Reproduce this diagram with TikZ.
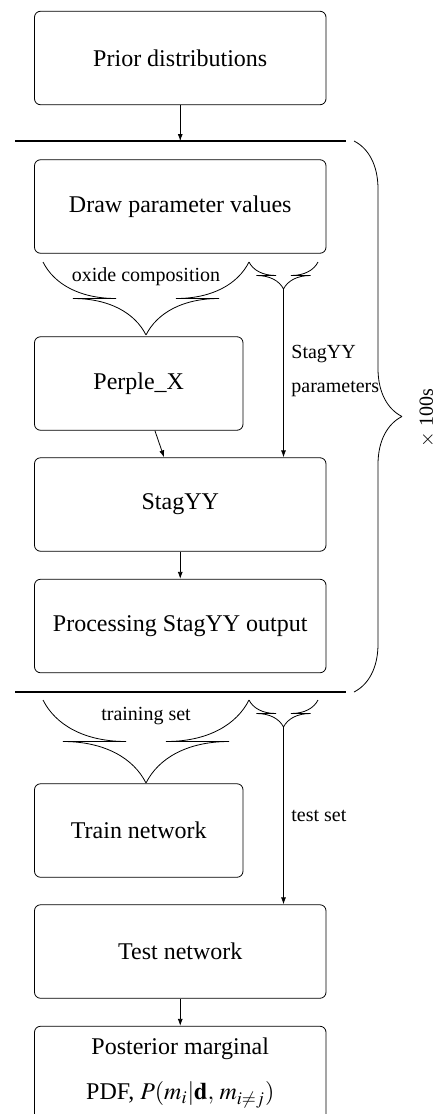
\documentclass[tikz,border=0pt]{standalone}
\usepackage{mathptmx}
\usepackage[no-math]{fontspec}
\setmainfont{Liberation Serif}
\usetikzlibrary{arrows.meta}
% brace drawn with the classic shape (x0, y0, length, amplitude), in picture units
\newcommand{\oldhbrace}[4]{%
\draw[brline] (#1,#2) .. controls ({#1+0.15*#4},{#2+0.3*#4}) and ({#1+0.5*#4},{#2+0.5*#4}) .. ({#1+#4},{#2+0.5*#4})
 -- ({#1+0.5*#3-#4},{#2+0.5*#4}) .. controls ({#1+0.5*#3-0.5*#4},{#2+0.5*#4}) and ({#1+0.5*#3-0.15*#4},{#2+0.7*#4}) .. ({#1+0.5*#3},{#2+#4})
 ({#1+0.5*#3},{#2+#4}) .. controls ({#1+0.5*#3+0.15*#4},{#2+0.7*#4}) and ({#1+0.5*#3+0.5*#4},{#2+0.5*#4}) .. ({#1+0.5*#3+#4},{#2+0.5*#4})
 -- ({#1+#3-#4},{#2+0.5*#4}) .. controls ({#1+#3-0.5*#4},{#2+0.5*#4}) and ({#1+#3-0.15*#4},{#2+0.3*#4}) .. ({#1+#3},#2);}
\newcommand{\oldvbrace}[4]{%
\draw[brline] (#1,#2) .. controls ({#1+0.3*#4},{#2+0.15*#4}) and ({#1+0.5*#4},{#2+0.5*#4}) .. ({#1+0.5*#4},{#2+#4})
 -- ({#1+0.5*#4},{#2+0.5*#3-#4}) .. controls ({#1+0.5*#4},{#2+0.5*#3-0.5*#4}) and ({#1+0.7*#4},{#2+0.5*#3-0.15*#4}) .. ({#1+#4},{#2+0.5*#3})
 ({#1+#4},{#2+0.5*#3}) .. controls ({#1+0.7*#4},{#2+0.5*#3+0.15*#4}) and ({#1+0.5*#4},{#2+0.5*#3+0.5*#4}) .. ({#1+0.5*#4},{#2+0.5*#3+#4})
 -- ({#1+0.5*#4},{#2+#3-#4}) .. controls ({#1+0.5*#4},{#2+#3-0.5*#4}) and ({#1+0.3*#4},{#2+#3-0.15*#4}) .. (#1,{#2+#3});}
\begin{document}
\begin{tikzpicture}[x=0.5pt,y=-0.5pt,
  box/.style={draw, rounded corners=3pt, line width=0.4pt, minimum width=145.75pt, minimum height=46.75pt, inner sep=0pt, font=\large, align=center},
  narrowbox/.style={box, minimum width=104.25pt},
  sepline/.style={line width=1pt},
  conn/.style={line width=0.4pt, -{Latex[length=3.5pt,width=2.5pt]}},
  brline/.style={line width=0.4pt},
  lbl/.style={font=\normalsize, inner sep=0pt}
]
\useasboundingbox (0,0) rectangle (437,1114);
\clip (0,0) rectangle (437,1114);

% boxes
\node[box] (prior) at (180.25,58) {Prior distributions};
\node[box] (draw) at (180.25,206.5) {Draw parameter values};
\node[narrowbox] (perple) at (138.75,383.5) {Perple\_X};
\node[box] (stagyy) at (180.25,504.5) {StagYY};
\node[box] (proc) at (180.25,626) {Processing StagYY output};
\node[narrowbox] (train) at (138.75,830.5) {Train network};
\node[box] (test) at (180.25,951.5) {Test network};
\node[box] (post) at (180.25,1073) {Posterior marginal\\[8.5pt]PDF, $P(m_i|\mathbf{d},\, m_{i\neq j})$};

% separator lines
\coordinate (l1a) at (15,141); \coordinate (l1b) at (346,141);
\coordinate (l1m) at (180.25,141);
\draw[sepline] (l1a) -- (l1b);
\coordinate (l2a) at (15,692); \coordinate (l2b) at (346,692);
\draw[sepline] (l2a) -- (l2b);

% braces (upper)
\oldhbrace{43}{262}{206}{73}
\oldhbrace{249}{262}{69}{27}
\coordinate (stip) at (283.5,289);

% braces (lower)
\oldhbrace{43}{700}{206}{83}
\oldhbrace{249}{700}{69}{27}
\coordinate (utip) at (283.5,727);

% right brace
\oldvbrace{354}{141}{551}{48}

% connectors
\draw[conn] (prior.south) -- (l1m);
\draw[conn] (stip) -- (stip |- stagyy.north);
\draw[conn] (perple) -- (stagyy);
\draw[conn] (stagyy.south) -- (proc.north);
\draw[conn] (utip) -- (utip |- test.north);
\draw[conn] (test.south) -- (post.north);

% labels
\node[lbl] (oxl) at (146,277) {oxide composition};
\node[lbl] (trl) at (146,716) {training set};
\node[lbl, anchor=west, align=left] (spl) at (291,371) {StagYY\\[5pt]parameters};
\node[lbl, anchor=west] (tsl) at (291,816) {test set};
\node[lbl, rotate=90] (rep) at (427,418) {$\times$ 100s};
\end{tikzpicture}
\end{document}
